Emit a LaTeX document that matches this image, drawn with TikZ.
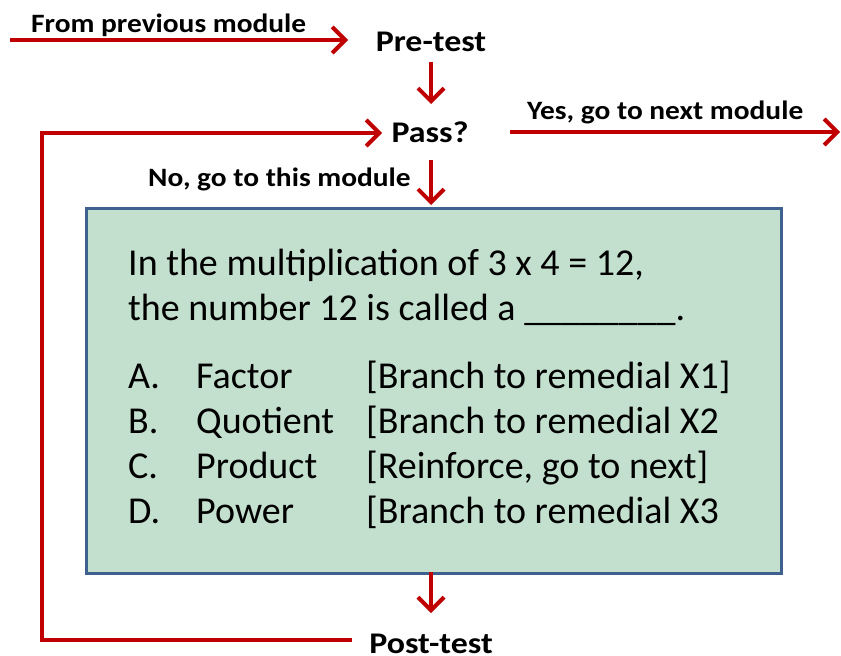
\documentclass[tikz,border=0pt]{standalone}
\usepackage{fontspec}
\setmainfont{Carlito}
\usetikzlibrary{arrows.meta}
\definecolor{flowred}{HTML}{C00000}
\definecolor{boxfill}{HTML}{C3DFCD}
\definecolor{boxline}{HTML}{3F6190}
\tikzset{
  flow/.style={draw=flowred, line width=4pt},
  flowarrow/.style={flow, -{Straight Barb[length=13pt,width=26pt]}},
  steplabel/.style={inner sep=0pt, xscale=1.13, font=\bfseries\fontsize{30}{34}\selectfont, anchor=base},
  edgelabel/.style={inner sep=0pt, xscale=1.11, font=\bfseries\fontsize{26.5}{30}\selectfont, anchor=base west},
  qtext/.style={inner sep=0pt, font=\fontsize{38}{44}\selectfont, anchor=base west},
}
\begin{document}
\begin{tikzpicture}[x=1pt,y=-1pt]
\useasboundingbox (0,0) rectangle (841,656);

% question box
\node[draw=boxline, fill=boxfill, line width=3pt, minimum width=695pt, minimum height=365pt,
      inner sep=0pt, anchor=north west] (box) at (85,207) {};

% steps
\node[steplabel] (pre) at (431,51) {Pre-test};
\node[steplabel] (pass) at (430,142) {Pass?};
\node[steplabel] (post) at (431,653) {Post-test};

% connector end points
\coordinate (fromstart) at (10,40);
\coordinate (fromend) at (348,40);
\coordinate (yesstart) at (510,132);
\coordinate (yesend) at (840,132);
\coordinate (loopcorner) at (42,640);
\coordinate (loopcorner2) at (42,133);

% connectors
\draw[flowarrow] (fromstart) -- (fromend);
\draw[flowarrow] (431,62) -- (431,104);
\draw[flowarrow] (yesstart) -- (yesend);
\draw[flowarrow] (431,160) -- (431,205);
\draw[flowarrow] (431,572) -- (431,613);
\draw[flowarrow] (352,640) -- (loopcorner) -- (loopcorner2) -- (382,133);

% connector labels
\node[edgelabel] (fromlabel) at (31,32) {From previous module};
\node[edgelabel] (yeslabel) at (527,119) {Yes, go to next module};
\node[edgelabel] (nolabel) at (148,186) {No, go to this module};

% question text
\node[qtext] (q1) at (128,275) {In the multiplication of 3 x 4 = 12,};
\node[qtext] (q2) at (128,320) {the number 12 is called a \_\_\_\_\_\_\_\_.};

\node[qtext] (la) at (128,388) {A.};
\node[qtext] (lb) at (128,433) {B.};
\node[qtext] (lc) at (128,478) {C.};
\node[qtext] (ld) at (128,523) {D.};

\node[qtext] (wa) at (196,388) {Factor};
\node[qtext] (wb) at (196,433) {Quotient};
\node[qtext] (wc) at (196,478) {Product};
\node[qtext] (wd) at (196,523) {Power};

\node[qtext] (ba) at (366,388) {[Branch to remedial X1]};
\node[qtext] (bb) at (366,433) {[Branch to remedial X2};
\node[qtext] (bc) at (366,478) {[Reinforce, go to next]};
\node[qtext] (bd) at (366,523) {[Branch to remedial X3};
\end{tikzpicture}
\end{document}
